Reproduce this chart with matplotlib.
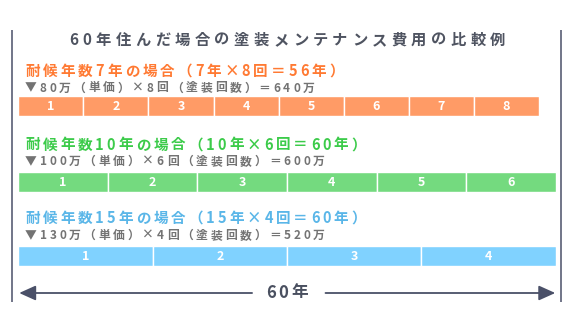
import matplotlib
matplotlib.use('Agg')
import matplotlib.pyplot as plt

plt.rcParams['font.family'] = ['Noto Sans CJK JP', 'DejaVu Sans']

# data
life_years = [7, 10, 15]          # 耐候年数
repaint_counts = [8, 6, 4]        # 塗装回数
unit_prices = [80, 100, 130]      # 単価（万）
total_span = 60

bar_colors = ['#ff9b66', '#74da7f', '#80d2ff']
head_colors = ['#ff7a33', '#3ccb4a', '#5ab6e8']
title = '60年住んだ場合の塗装メンテナンス費用の比較例'

W, H = 574, 332
fig = plt.figure(figsize=(W / 100, H / 100), dpi=100)
bg = fig.add_axes([0, 0, 1, 1])
bg.set_xlim(0, W)
bg.set_ylim(H, 0)
bg.axis('off')
renderer = fig.canvas.get_renderer()


def spaced(x0, x1, y, s, size, color, weight='bold'):
    # letter-spaced text filling x0..x1 (pixels)
    ws = []
    for ch in s:
        t = bg.text(0, 0, ch, fontsize=size, fontweight=weight)
        ws.append(t.get_window_extent(renderer).width)
        t.remove()
    track = (x1 - x0 - sum(ws)) / max(len(s) - 1, 1)
    x = x0
    for ch, w in zip(s, ws):
        bg.text(x, y, ch, fontsize=size, color=color, fontweight=weight,
                ha='left', va='center')
        x += w + track


# frame lines
for xl in (12.3, 561.3):
    bg.plot([xl, xl], [30, 302], color='#4a5068', lw=1.1, solid_capstyle='butt')

spaced(69, 505, 40, title, 11, '#4f5461', weight='bold')

head_y = [71, 144.5, 218]
sub_y = [88, 161.5, 235.5]
bar_top = [96.5, 172, 246]
head_end = [344, 366, 366]
sub_end = [314.5, 325, 325]
bar_end = [539, 555.7, 555.7]
x_left = 18.3

for i in range(3):
    d, n, p = life_years[i], repaint_counts[i], unit_prices[i]
    head = f'耐候年数{d}年の場合（{d}年×{n}回＝{d * n}年）'
    sub = f'▼{p}万（単価）×{n}回（塗装回数）＝{p * n}万'
    spaced(25, head_end[i], head_y[i], head, 10.5, head_colors[i])
    spaced(25, sub_end[i], sub_y[i], sub, 8.5, '#737373')

    ax = fig.add_axes([x_left / W, 1 - (bar_top[i] + 20) / H,
                       (bar_end[i] - x_left) / W, 20 / H])
    starts = [k * d for k in range(n)]
    ax.barh(0, [d] * n, left=starts, height=1, color=bar_colors[i],
            edgecolor='white', linewidth=1)
    for k, s0 in enumerate(starts):
        ax.text(s0 + d / 2, 0, str(k + 1), color='white', fontsize=9,
                fontweight='bold', ha='center', va='center')
    ax.set_xlim(0, d * n)
    ax.set_ylim(-0.5, 0.5)
    ax.axis('off')

# 60-year arrow
axa = fig.add_axes([x_left / W, 1 - 303 / H, (555.7 - x_left) / W, 20 / H])
axa.set_xlim(0, total_span)
axa.set_ylim(0, 1)
axa.axis('off')
gap_l, gap_r = 26.1, 34.3
ap = dict(arrowstyle='-|>,head_length=1.0,head_width=0.45', color='#4a5068',
          lw=1.3, shrinkA=0, shrinkB=0, mutation_scale=10)
axa.annotate('', xy=(0.1, 0.5), xytext=(gap_l, 0.5), arrowprops=ap)
axa.annotate('', xy=(total_span - 0.05, 0.5), xytext=(gap_r, 0.5), arrowprops=ap)
spaced(266, 308, 292.5, f'{total_span}年', 12, '#4a5060')

fig.savefig('out.png', dpi=100)
